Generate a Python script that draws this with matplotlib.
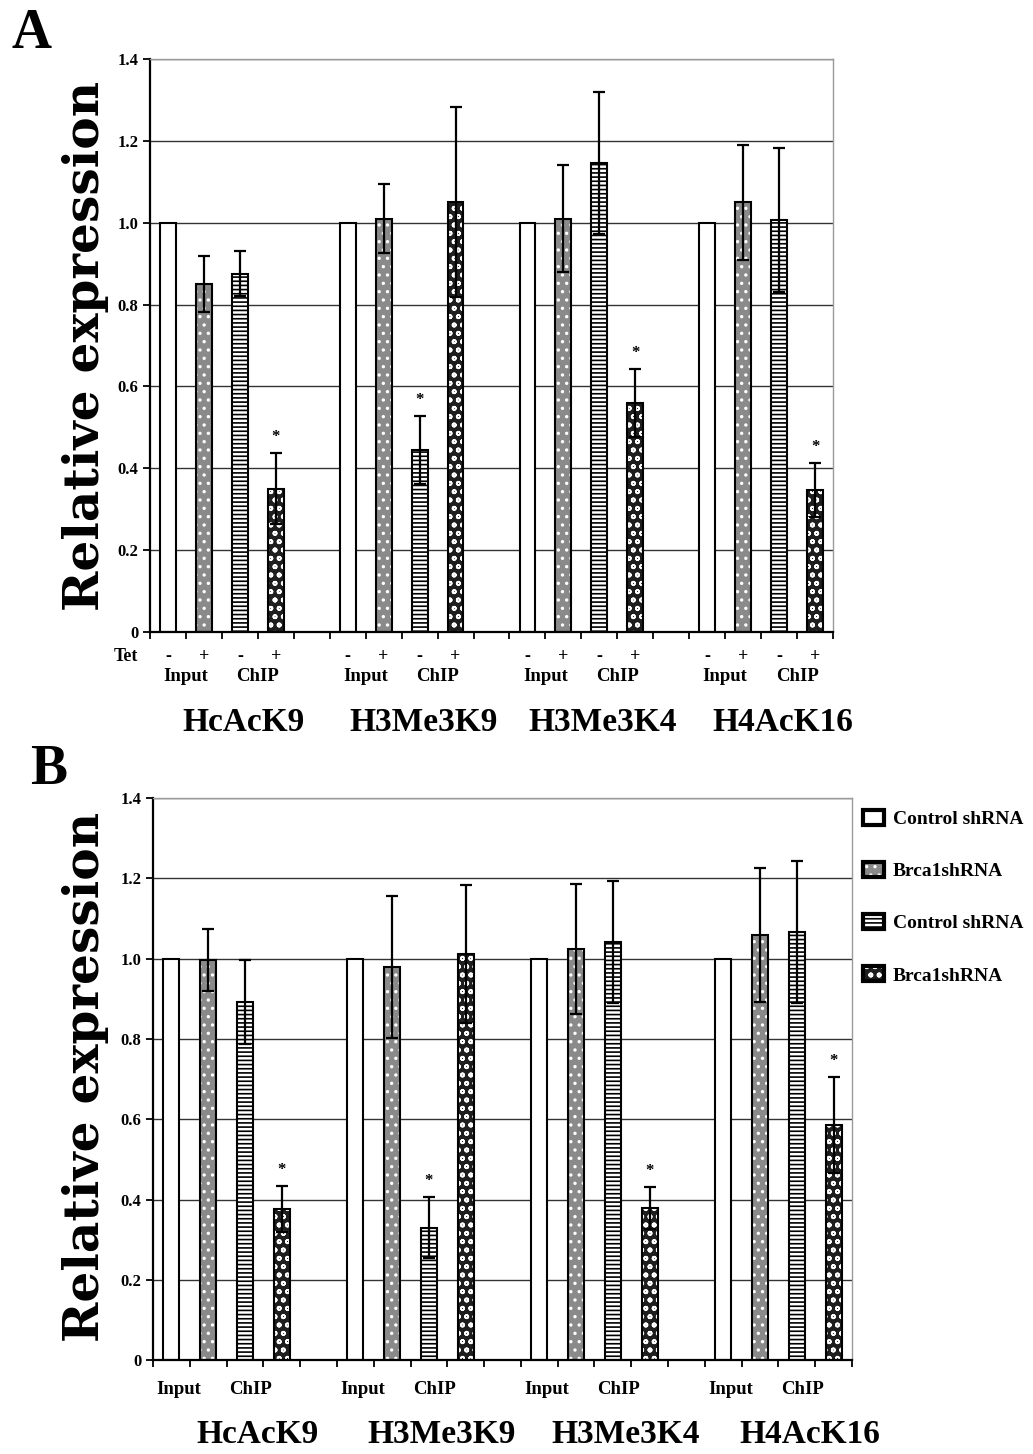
import numpy as np
import matplotlib
matplotlib.use("Agg")
import matplotlib.pyplot as plt
from matplotlib.patches import Patch

plt.rcParams['font.family'] = ['Liberation Serif', 'DejaVu Serif']
plt.rcParams['font.weight'] = 'bold'
plt.rcParams['hatch.linewidth'] = 1.2

groups = ['HcAcK9', 'H3Me3K9', 'H3Me3K4', 'H4AcK16']
tet_signs = ['-', '+', '-', '+']
sub_labels = ['Input', 'ChIP']
legend_labels = ['Control shRNA', 'Brca1shRNA', 'Control shRNA', 'Brca1shRNA']
ytick_vals = [0, 0.2, 0.4, 0.6, 0.8, 1.0, 1.2, 1.4]
ytick_labels = ['0', '0.2', '0.4', '0.6', '0.8', '1.0', '1.2', '1.4']

# panel A: Input -/+ Tet, ChIP -/+ Tet
a_in_minus = [1.0, 1.0, 1.0, 1.0]
a_in_plus = [0.85, 1.01, 1.01, 1.05]
a_in_plus_err = [0.068, 0.085, 0.13, 0.141]
a_chip_minus = [0.875, 0.445, 1.146, 1.007]
a_chip_minus_err = [0.055, 0.083, 0.173, 0.176]
a_chip_plus = [0.35, 1.05, 0.56, 0.347]
a_chip_plus_err = [0.087, 0.232, 0.083, 0.066]
a_star = [3, 2, 3, 3]   # index of the bar carrying the asterisk in each group

# panel B: control / Brca1 shRNA
b_ctrl_in = [1.0, 1.0, 1.0, 1.0]
b_brca_in = [0.997, 0.979, 1.024, 1.059]
b_brca_in_err = [0.077, 0.177, 0.162, 0.166]
b_ctrl_chip = [0.892, 0.33, 1.041, 1.066]
b_ctrl_chip_err = [0.105, 0.076, 0.152, 0.177]
b_brca_chip = [0.376, 1.011, 0.379, 0.585]
b_brca_chip_err = [0.057, 0.172, 0.052, 0.12]
b_star = [3, 2, 3, 3]

# face colour, hatch, hatch colour for the 4 bar kinds
STYLES = [
    ('white', None, 'white'),
    ('#8a8a8a', '..', 'white'),
    ('white', '----', 'black'),
    ('#1e1e1e', 'oo', 'white'),
]
BAR_W = 0.44


def draw_bars(ax, x, heights, errs, style):
    face, hatch, hcol = style
    ax.bar(x, heights, width=BAR_W, color=face, edgecolor=hcol, hatch=hatch,
           linewidth=0, zorder=2)
    ax.bar(x, heights, width=BAR_W, fill=False, edgecolor='black',
           linewidth=1.5, zorder=3)
    if errs is not None:
        ax.errorbar(x, heights, yerr=errs, fmt='none', ecolor='black',
                    elinewidth=1.6, capsize=4, capthick=1.6, zorder=4)


def setup_axes(ax):
    ax.set_xlim(-0.5, 18.5)
    ax.set_ylim(0, 1.4)
    ax.set_yticks(ytick_vals)
    ax.set_yticklabels(ytick_labels, fontsize=12, fontweight='bold')
    ax.set_xticks(np.arange(-0.5, 19, 1))
    ax.set_xticklabels([])
    ax.tick_params(axis='both', direction='out', length=5, width=1.3, colors='black')
    ax.yaxis.grid(True, color='#333333', linewidth=1.0)
    ax.set_axisbelow(True)
    for s in ['left', 'bottom']:
        ax.spines[s].set_color('black')
        ax.spines[s].set_linewidth(1.6)
    for s in ['top', 'right']:
        ax.spines[s].set_color('#9a9a9a')
        ax.spines[s].set_linewidth(1.0)


def panel(ax, series, star_idx):
    starts = np.arange(len(groups)) * 5
    for i, (vals, errs) in enumerate(series):
        draw_bars(ax, starts + i, vals, errs, STYLES[i])
    for g in range(len(groups)):
        i = star_idx[g]
        vals, errs = series[i]
        top = vals[g] + (errs[g] if errs is not None else 0)
        ax.text(starts[g] + i, top + 0.04, '*', ha='center', va='center',
                fontsize=12, fontweight='bold')
    setup_axes(ax)
    return starts


fig = plt.figure(figsize=(10.33, 14.54), dpi=100)
axA = fig.add_axes([0.1452, 0.5653, 0.6612, 0.3941])
axB = fig.add_axes([0.1481, 0.0646, 0.6767, 0.3865])

seriesA = [(a_in_minus, None), (a_in_plus, a_in_plus_err),
           (a_chip_minus, a_chip_minus_err), (a_chip_plus, a_chip_plus_err)]
seriesB = [(b_ctrl_in, None), (b_brca_in, b_brca_in_err),
           (b_ctrl_chip, b_ctrl_chip_err), (b_brca_chip, b_brca_chip_err)]

startsA = panel(axA, seriesA, a_star)
startsB = panel(axB, seriesB, b_star)

# labels under panel A
trA = axA.get_xaxis_transform()
axA.text(-0.035, -0.042, 'Tet', transform=axA.transAxes, ha='center', va='center',
         fontsize=13, fontweight='bold')
for s in startsA:
    for i, sign in enumerate(tet_signs):
        axA.text(s + i, -0.042, sign, transform=trA, ha='center', va='center',
                 fontsize=13, fontweight='bold')
    axA.text(s + 0.5, -0.077, sub_labels[0], transform=trA, ha='center', va='center',
             fontsize=13.5, fontweight='bold')
    axA.text(s + 2.5, -0.077, sub_labels[1], transform=trA, ha='center', va='center',
             fontsize=13.5, fontweight='bold')
for s, name in zip(startsA, groups):
    axA.text(s + 2.1, -0.157, name, transform=trA, ha='center', va='center',
             fontsize=24, fontweight='bold')

# labels under panel B
trB = axB.get_xaxis_transform()
for s in startsB:
    axB.text(s + 0.2, -0.053, sub_labels[0], transform=trB, ha='center', va='center',
             fontsize=13.5, fontweight='bold')
    axB.text(s + 2.15, -0.053, sub_labels[1], transform=trB, ha='center', va='center',
             fontsize=13.5, fontweight='bold')
for s, name in zip(startsB, groups):
    axB.text(s + 2.35, -0.133, name, transform=trB, ha='center', va='center',
             fontsize=24, fontweight='bold')

# y labels
for yc in [0.762, 0.259]:
    fig.text(0.083, yc, 'Relative expression', rotation=90, ha='center', va='center',
             fontsize=35, fontweight='bold', family='DejaVu Serif')

# panel letters
fig.text(12 / 1033, 1 - 48 / 1454, 'A', fontsize=40, fontweight='bold', va='baseline')
fig.text(30 / 1033, 1 - 784 / 1454, 'B', fontsize=40, fontweight='bold', va='baseline')

# legend for panel B
handles = []
for face, hatch, hcol in STYLES:
    handles.append((Patch(facecolor=face, edgecolor=hcol, hatch=hatch, linewidth=0),
                    Patch(fill=False, edgecolor='black', linewidth=3)))
fig.legend(handles, legend_labels, loc='upper left',
           bbox_to_anchor=(855 / 1033, 1 - 802 / 1454), frameon=False,
           prop={'family': 'Liberation Serif', 'weight': 'bold', 'size': 14},
           labelspacing=1.75, handlelength=1.1, handleheight=0.8, handletextpad=0.45,
           borderaxespad=0)

fig.savefig('out.png', dpi=100)
